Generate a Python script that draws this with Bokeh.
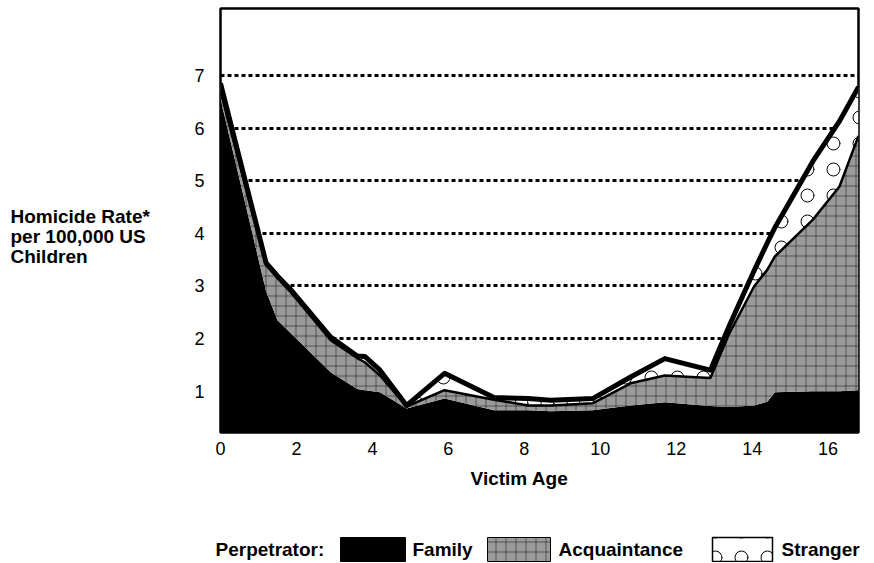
import numpy as np
from bokeh.plotting import figure
from bokeh.models import Range1d, FixedTicker, Plot
from bokeh.layouts import column, row
from bokeh.embed import file_html
from bokeh.resources import INLINE
from bokeh.core.properties import value

# ---- data ----
age = [0, 1.2, 1.5, 1.85, 2.9, 3.6, 3.8, 4.2, 4.9, 5.9, 7.2, 8.1, 8.7, 9.8,
       10.8, 11.7, 12.4, 12.9, 13.4, 14.05, 14.4, 14.6, 15.6, 16.3, 16.8]
family = [6.55, 2.90, 2.35, 2.10, 1.36, 1.04, 1.02, 0.98, 0.67, 0.86, 0.64, 0.64, 0.62, 0.64,
          0.73, 0.79, 0.75, 0.72, 0.70, 0.73, 0.80, 0.98, 1.00, 1.00, 1.02]
acquaintance = [0.15, 0.50, 0.80, 0.78, 0.61, 0.59, 0.53, 0.32, 0.04, 0.16, 0.20, 0.09, 0.11, 0.13,
                0.42, 0.51, 0.52, 0.53, 1.40, 2.26, 2.51, 2.58, 3.26, 3.89, 4.83]
stranger = [0.15, 0.04, 0.04, 0.05, 0.06, 0.04, 0.11, 0.10, 0.02, 0.32, 0.04, 0.13, 0.10, 0.09,
            0.12, 0.32, 0.22, 0.15, 0.15, 0.30, 0.51, 0.55, 1.11, 1.24, 0.93]
x_ticks = [0, 2, 4, 6, 8, 10, 12, 14, 16]
y_ticks = [1, 2, 3, 4, 5, 6, 7]
grid_levels = [2, 3, 4, 5, 6, 7]
y_title_lines = ["Homicide Rate*", "per 100,000 US", "Children"]
x_title = "Victim Age"
legend_title = "Perpetrator:"
legend_names = ["Family", "Acquaintance", "Stranger"]

FONT = "Liberation Sans"
GRAY = "#9a9a9a"

fam_top = np.array(family)
acq_top = fam_top + np.array(acquaintance)
total = acq_top + np.array(stranger)


def no_align(fig):
    if "frame_align" in Plot.properties():
        fig.frame_align = False


def blank(fig):
    fig.outline_line_color = None
    fig.axis.visible = False
    fig.grid.visible = False
    fig.background_fill_color = "white"
    fig.border_fill_color = "white"


# ---- main chart ----
p = figure(width=703, height=466, x_range=Range1d(0, 16.8), y_range=Range1d(0.216, 8.27),
           output_backend="svg", toolbar_location=None,
           min_border_left=50, min_border_right=15, min_border_top=8, min_border_bottom=34)
p.background_fill_color = "white"
p.border_fill_color = "white"
p.outline_line_color = "black"
p.outline_line_width = 2.5

p.xgrid.visible = False
p.ygrid.ticker = FixedTicker(ticks=grid_levels)
p.ygrid.grid_line_color = "black"
p.ygrid.grid_line_width = 3
p.ygrid.grid_line_dash = "4 3"

for ax in (p.xaxis[0], p.yaxis[0]):
    ax.axis_line_color = None
    ax.major_tick_line_color = None
    ax.minor_tick_line_color = None
    ax.major_tick_in = 0
    ax.major_tick_out = 0
    ax.major_label_text_font = FONT
    ax.major_label_text_font_size = "18px"
    ax.major_label_text_color = "black"
p.xaxis.ticker = FixedTicker(ticks=x_ticks)
p.yaxis.ticker = FixedTicker(ticks=y_ticks)
p.xaxis.major_label_standoff = 9
p.yaxis.major_label_standoff = 16

p.varea(x=age, y1=0, y2=fam_top, fill_color="black")
p.varea(x=age, y1=fam_top, y2=acq_top, fill_color=GRAY,
        hatch_pattern="cross", hatch_color="black", hatch_alpha=0.45,
        hatch_scale=10, hatch_weight=1)
p.varea(x=age, y1=acq_top, y2=total, fill_color="white",
        hatch_pattern="ring", hatch_color="black", hatch_alpha=1.0,
        hatch_scale=26, hatch_weight=1)
p.line(age, acq_top, line_color="black", line_width=2.5, line_join="round")
p.line(age, total, line_color="black", line_width=5, line_join="round")

# ---- y title panel (page coordinates) ----
t = figure(width=170, height=466, x_range=Range1d(0, 170), y_range=Range1d(466, 0),
           output_backend="svg", toolbar_location=None,
           min_border_left=0, min_border_right=0, min_border_top=0, min_border_bottom=0)
blank(t)
no_align(t)
t.text(x=[10, 10, 10], y=[216, 236, 256], text=y_title_lines,
       text_font=value(FONT), text_font_size="19px", text_font_style="bold",
       text_align="left", text_baseline="middle", text_color="black")

# ---- bottom panel: x title + legend (page coordinates) ----
q = figure(width=873, height=96, x_range=Range1d(0, 873), y_range=Range1d(562, 466),
           output_backend="svg", toolbar_location=None,
           min_border_left=0, min_border_right=0, min_border_top=0, min_border_bottom=0)
blank(q)
no_align(q)
q.text(x=[519], y=[478], text=[x_title],
       text_font=value(FONT), text_font_size="19px", text_font_style="bold",
       text_align="center", text_baseline="middle", text_color="black")
q.quad(left=[340], right=[405], top=[537], bottom=[561], fill_color="black", line_color="black")
q.quad(left=[487], right=[550], top=[537], bottom=[561], fill_color=GRAY, line_color="black",
       line_width=1, hatch_pattern="cross", hatch_color="black", hatch_alpha=0.45,
       hatch_scale=10, hatch_weight=1)
q.quad(left=[712], right=[772], top=[537], bottom=[561], fill_color="white", line_color="black",
       line_width=1.5, hatch_pattern="ring", hatch_color="black", hatch_scale=26, hatch_weight=1)
q.text(x=[215, 412, 558, 781], y=[549, 549, 549, 549],
       text=[legend_title] + legend_names,
       text_font=value(FONT), text_font_size="19px", text_font_style="bold",
       text_align="left", text_baseline="middle", text_color="black")

layout = column(row(t, p, spacing=0), q, spacing=0)
open("out.html", "w").write(file_html(layout, INLINE))
